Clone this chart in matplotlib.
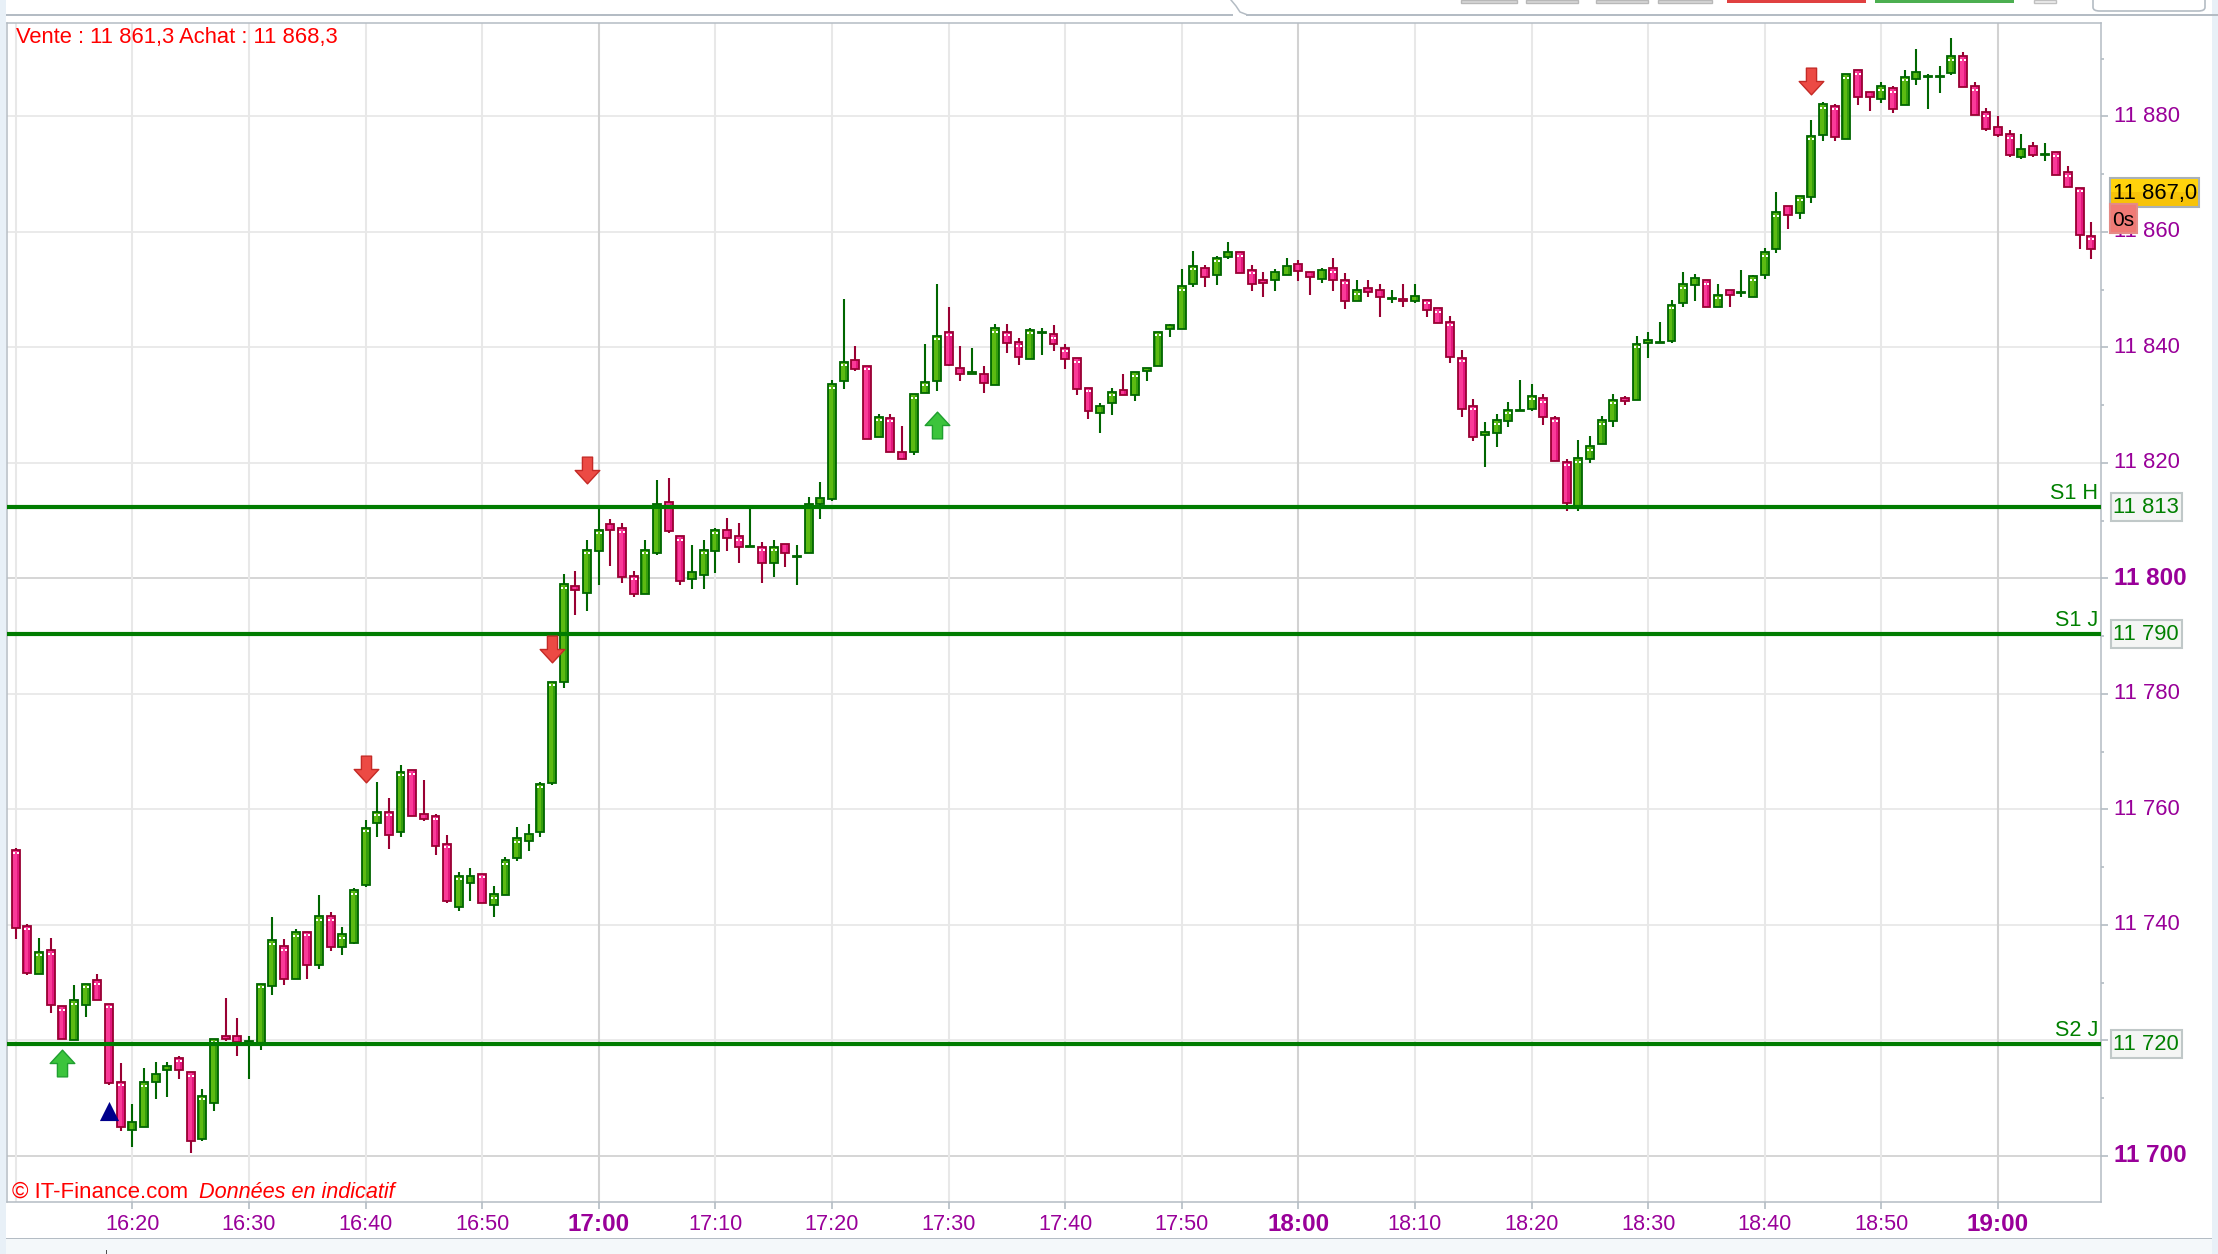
import numpy as np
import matplotlib
matplotlib.use('Agg')
import matplotlib.pyplot as plt
from matplotlib.lines import Line2D
from matplotlib.patches import Rectangle, FancyBboxPatch
from matplotlib.path import Path

plt.rcParams['font.family'] = ['Liberation Sans', 'DejaVu Sans']

W, H = 2218, 1254
base = 11700

# one candle per minute from 16:10, prices are offsets from base
opens = [53.0,39.8,31.4,35.6,25.9,20.0,26.2,30.4,26.3,12.8,
         4.4,5.0,12.7,14.8,17.0,14.5,2.9,9.2,20.7,20.7,
         19.7,19.5,29.4,36.3,30.7,38.8,33.1,41.5,36.2,36.9,
         46.9,57.7,59.6,56.0,66.8,59.2,58.9,54.0,43.1,47.3,
         48.8,43.5,45.2,51.5,54.6,56.0,64.6,82.0,98.7,97.5,
         104.8,109.4,108.7,100.4,97.2,104.4,113.2,107.3,99.9,100.6,
         104.8,108.4,107.3,105.4,105.5,102.7,105.9,103.7,104.4,112.9,
         113.8,134.2,137.8,136.8,124.5,127.8,121.9,121.8,132.1,134.2,
         142.7,136.4,135.3,135.4,133.5,142.7,140.9,138.0,142.5,142.3,
         139.9,138.1,133.0,128.7,130.4,132.6,131.8,135.9,136.7,143.2,
         143.2,150.9,153.7,152.6,155.7,156.5,153.4,151.7,151.6,152.6,
         154.4,153.1,151.9,153.7,151.7,148.1,150.3,149.9,148.4,148.3,
         148.1,148.2,146.8,144.4,138.2,129.9,124.8,125.2,127.3,129.0,
         129.4,131.2,127.8,120.2,112.5,120.7,123.2,127.3,131.3,130.8,
         140.8,140.8,141.1,147.7,150.8,151.6,147.0,149.9,149.4,148.8,
         152.5,157.1,164.5,163.3,166.0,176.8,181.8,176.1,188.0,184.2,
         183.0,184.9,182.0,186.5,186.9,186.9,187.5,190.4,185.2,180.7,
         178.2,176.9,172.9,174.8,173.3,173.8,170.3,167.6,159.3]
closes = [39.4,31.7,35.3,26.2,20.3,26.9,29.8,26.9,12.6,5.0,
          5.8,12.7,14.2,15.5,14.8,2.6,10.4,20.3,20.2,19.7,
          19.8,29.8,37.3,30.6,38.7,33.1,41.5,36.2,38.4,46.0,
          56.8,59.6,55.6,66.5,58.8,58.3,53.6,44.1,48.5,48.5,
          43.8,45.3,51.2,55.0,55.7,64.4,82.1,99.0,97.9,104.9,
          108.4,108.3,100.3,97.2,104.9,112.9,108.2,99.6,101.1,104.9,
          108.4,106.9,105.5,105.6,102.7,105.5,104.4,103.9,112.9,113.9,
          133.6,137.5,136.3,124.2,128.0,121.8,120.7,131.9,134.0,142.0,
          137.0,135.3,135.8,133.9,143.3,140.8,138.4,143.0,142.7,140.5,
          138.0,132.8,129.0,129.9,132.3,131.8,135.7,136.5,142.7,143.8,
          150.6,154.1,152.2,155.5,156.5,152.9,150.9,151.1,153.1,154.1,
          153.3,152.2,153.4,151.6,148.1,149.9,149.5,148.8,148.6,148.0,
          148.9,146.4,144.3,138.4,129.4,124.5,125.4,127.4,129.2,129.2,
          131.6,128.0,120.4,113.1,120.8,122.9,127.4,130.9,130.7,140.6,
          141.3,140.9,147.4,150.9,152.0,147.0,149.1,149.1,149.6,152.3,
          156.5,163.4,163.0,166.2,176.6,182.1,176.5,187.3,183.4,183.4,
          185.2,181.3,186.9,187.7,187.0,187.0,190.4,185.1,180.3,177.8,
          176.8,173.3,174.4,173.3,173.5,169.9,167.8,159.5,157.1]
highs = [53.3,40.2,37.8,37.8,25.9,29.5,29.8,31.5,26.3,16.0,
         9.0,15.2,16.3,16.3,17.3,14.5,11.5,20.3,27.4,23.9,
         20.8,29.8,41.3,37.5,39.2,38.8,45.1,42.3,39.6,46.4,
         58.2,64.8,62.0,67.6,66.8,65.1,59.2,55.5,49.2,49.9,
         48.8,46.8,51.7,56.9,57.5,64.8,82.1,100.8,101.2,106.7,
         112.5,110.2,109.5,101.2,106.7,117.1,117.4,107.3,105.7,106.7,
         108.8,110.5,109.5,112.1,106.3,106.7,105.9,105.7,114.0,116.7,
         134.4,148.3,140.3,136.8,128.5,128.5,126.4,131.9,140.6,151.0,
         146.9,140.3,139.9,136.8,144.1,144.1,141.7,143.4,143.4,143.8,
         140.6,138.1,133.0,130.3,133.0,135.4,135.7,136.5,142.7,144.1,
         153.5,156.6,154.2,155.9,158.3,156.5,154.2,153.1,153.5,155.5,
         155.2,153.1,153.8,155.5,152.8,151.7,151.7,151.0,150.0,151.0,
         151.0,148.2,146.8,145.5,139.6,131.0,127.1,128.5,130.6,134.4,
         133.7,132.0,128.1,120.6,124.0,124.7,128.1,132.0,131.6,142.0,
         142.7,144.4,148.2,153.0,152.7,151.6,150.9,149.9,153.4,152.6,
         157.2,166.9,164.5,166.2,179.4,182.5,182.2,187.3,188.0,184.2,
         186.0,185.2,188.1,191.6,187.4,188.8,193.6,191.1,186.0,181.4,
         180.1,177.7,177.0,175.6,175.3,173.8,171.4,167.6,161.7]
lows = [37.6,31.3,31.4,24.7,20.3,20.0,24.1,26.9,12.3,4.3,
        1.5,5.0,9.9,10.2,13.3,0.5,2.6,7.8,19.8,17.2,
        13.3,18.4,27.8,29.6,30.7,30.6,32.3,35.5,34.8,36.6,
        46.6,55.2,53.1,55.2,58.8,58.0,52.1,43.7,42.4,44.1,
        43.8,41.4,45.2,51.0,52.8,55.2,64.2,81.0,93.6,94.3,
        98.8,102.2,99.2,96.8,97.2,104.1,107.8,98.9,98.2,98.2,
        100.9,104.7,102.7,105.4,99.2,100.2,102.0,98.8,104.4,110.3,
        113.4,132.8,135.9,124.2,124.5,121.8,120.7,121.4,132.1,132.4,
        136.7,134.2,135.3,132.1,133.5,139.0,136.9,138.0,138.7,139.4,
        136.2,131.7,127.6,125.2,128.3,131.8,130.7,134.2,136.7,141.8,
        143.2,150.5,150.5,150.8,155.3,152.9,149.8,148.7,149.8,152.6,
        151.5,149.1,151.1,149.8,146.6,148.1,148.7,145.3,147.7,147.0,
        147.7,145.3,144.3,137.3,127.9,123.8,119.3,122.8,126.2,129.0,
        129.0,126.6,120.4,111.7,111.7,120.0,123.2,126.2,130.0,130.8,
        138.2,140.8,140.8,147.0,148.0,147.0,147.0,147.0,148.8,148.8,
        151.8,156.3,160.5,162.2,165.0,175.7,175.7,176.1,181.9,180.9,
        182.3,180.6,182.0,185.4,181.3,184.0,187.1,185.1,180.3,177.4,
        176.4,172.9,172.6,172.9,172.2,169.9,167.8,157.0,155.3]

# support lines
level_names = ['S1 H', 'S1 J', 'S2 J']
level_values = [11812.4, 11790.4, 11719.4]
level_labels = ['11 813', '11 790', '11 720']

# signals: minute index, price
down_x = [30, 46, 49, 154]
down_y = [11767.0, 11787.7, 11818.7, 11886.2]
up_x = [4, 79]
up_y = [11716.1, 11826.6]
tri_x = [8]
tri_y = [11707.7]

# axis labels
time_pos = [10, 20, 30, 40, 50, 60, 70, 80, 90, 100, 110, 120, 130, 140, 150, 160, 170]
time_labels = ['16:20', '16:30', '16:40', '16:50', '17:00', '17:10', '17:20', '17:30',
               '17:40', '17:50', '18:00', '18:10', '18:20', '18:30', '18:40', '18:50', '19:00']
time_bold = [50, 110, 170]
price_pos = [11700, 11720, 11740, 11760, 11780, 11800, 11820, 11840, 11860, 11880]
price_labels = ['11 700', '', '11 740', '11 760', '11 780', '11 800', '11 820', '11 840', '11 860', '11 880']
price_bold = [11700, 11800]
price_minor = [11710, 11730, 11750, 11770, 11790, 11810, 11830, 11850, 11870, 11890]

purple = '#990099'
line_green = '#007c00'
tick_grey = '#b4bcc4'


def fx(x):
    return x / W


def fy(y):
    return 1 - y / H


def rect(x0, y0, x1, y1, face, edge='none', lw=0, z=5):
    fig.add_artist(Rectangle((fx(x0), fy(y1)), (x1 - x0) / W, (y1 - y0) / H, transform=fig.transFigure,
                             facecolor=face, edgecolor=edge, linewidth=lw, zorder=z))


fig = plt.figure(figsize=(W / 100, H / 100), dpi=100, facecolor='white')
ax = fig.add_axes([fx(7), fy(1202), (2100.6 - 7) / W, (1202 - 22.8) / H])
ax.set_xlim(-0.75, 178.8)
ax.set_ylim(11692, 11896.2)

# grid, the 16:10 line has no tick or label
for p in price_pos:
    ax.axhline(p, color='#d2d2d2' if p in price_bold else '#e8e8e8', lw=1.3, zorder=1)
ax.axvline(0, color='#e8e8e8', lw=1.5, zorder=1)
for t in time_pos:
    ax.axvline(t, color='#d2d2d2' if t in time_bold else '#e8e8e8', lw=1.5, zorder=1)

# candles
opens_a = np.array(opens) + base
closes_a = np.array(closes) + base
highs_a = np.array(highs) + base
lows_a = np.array(lows) + base
x = np.arange(len(opens_a))
up = closes_a >= opens_a
top = np.maximum(opens_a, closes_a)
bot = np.minimum(opens_a, closes_a)

ax.vlines(x[up], lows_a[up], highs_a[up], color='#006600', lw=1.5, zorder=2)
ax.vlines(x[~up], lows_a[~up], highs_a[~up], color='#990033', lw=1.5, zorder=2)
ax.bar(x[up], (top - bot)[up], bottom=bot[up], width=0.68, color='#359e0c', zorder=3, lw=0)
ax.bar(x[~up], (top - bot)[~up], bottom=bot[~up], width=0.68, color='#e3187e', zorder=3, lw=0)
# lighter strip inside the bodies
ax.bar(x[up] - 0.08, (top - bot)[up], bottom=bot[up], width=0.32, color='#5cba12', zorder=3.5, lw=0)
ax.bar(x[~up] - 0.08, (top - bot)[~up], bottom=bot[~up], width=0.32, color='#fa3a98', zorder=3.5, lw=0)
ax.bar(x[up], (top - bot)[up], bottom=bot[up], width=0.68, fill=False, edgecolor='#006600', lw=1.3, zorder=3.6)
ax.bar(x[~up], (top - bot)[~up], bottom=bot[~up], width=0.68, fill=False, edgecolor='#990033', lw=1.3, zorder=3.6)
# little white marks under the top edge of the taller bodies
tall = (top - bot) > 1.5
ax.scatter(np.r_[x[tall] - 0.17, x[tall] + 0.17], np.r_[top[tall] - 0.6, top[tall] - 0.6],
           marker='s', s=2.5, color='white', lw=0, zorder=3.7)

# support lines
for v in level_values:
    ax.axhline(v, color=line_green, lw=3.0, zorder=4)

# signal arrows
down_path = Path([(-0.38, 1), (0.38, 1), (0.38, 0), (0.92, 0), (0, -1), (-0.92, 0), (-0.38, 0), (-0.38, 1)], closed=True)
up_path = Path([(-0.38, -1), (0.38, -1), (0.38, 0), (0.92, 0), (0, 1), (-0.92, 0), (-0.38, 0), (-0.38, -1)], closed=True)
ax.scatter(down_x, down_y, marker=down_path, s=370, facecolor='#ec4a44', edgecolor='#c42a26', lw=1, zorder=5)
ax.scatter(up_x, up_y, marker=up_path, s=370, facecolor='#3cc43c', edgecolor='#1f9f2f', lw=1, zorder=5)
ax.scatter(tri_x, tri_y, marker='^', s=190, color='#00008b', lw=0, zorder=5)

# axes
for s in ax.spines.values():
    s.set_color(tick_grey)
    s.set_linewidth(1.1)
ax.yaxis.tick_right()
ax.set_yticks(price_pos)
ax.set_yticklabels(price_labels)
ax.set_yticks(price_minor, minor=True)
ax.tick_params(axis='y', which='major', length=5, width=1.2, color=tick_grey, pad=5, labelsize=15.8, labelcolor=purple)
ax.tick_params(axis='y', which='minor', length=2.5, width=1.2, color=tick_grey)
for lab, p in zip(ax.get_yticklabels(), price_pos):
    lab.set_verticalalignment('center')
    if p in price_bold:
        lab.set_fontweight('bold')
        lab.set_fontsize(17.5)
ax.set_xticks(time_pos)
ax.set_xticklabels(time_labels)
ax.tick_params(axis='x', length=5, width=1.2, color=tick_grey, pad=11, labelsize=15.6, labelcolor=purple)
for lab, t in zip(ax.get_xticklabels(), time_pos):
    lab.set_verticalalignment('center')
    if t in time_bold:
        lab.set_fontweight('bold')
        lab.set_fontsize(17.5)

# texts inside the chart
fig.text(fx(16), fy(37.5), 'Vente : 11 861,3 Achat : 11 868,3', color='#ff0000', fontsize=15.8, va='center', zorder=6)
fig.text(fx(11.5), fy(1192), '\u00a9 IT-Finance.com', color='#ff0000', fontsize=16, va='center', zorder=6)
fig.text(fx(199), fy(1192), 'Donn\u00e9es en indicatif', color='#ff0000', fontsize=15.6, style='italic', va='center', zorder=6)

# support names and value boxes
for name, v, lab in zip(level_names, level_values, level_labels):
    ypx = 1155.7 - (v - 11700) * 5.775
    fig.text(fx(2098), fy(ypx - 13.5), name, color='#008000', fontsize=15.6, ha='right', va='center', zorder=6)
    rect(2110.5, ypx - 14, 2181.5, ypx + 14.5, '#f4f5f4', '#c0c8c8', 1.5)
    fig.text(fx(2146), fy(ypx + 0.5), lab, color='#008000', fontsize=15.8, ha='center', va='center', zorder=6)

# last price box and countdown
rect(2110, 178, 2199, 207, '#f7c308', '#a9b1b8', 1.5)
rect(2111, 179, 2198, 192, '#ffd30c')
fig.text(fx(2155), fy(193), '11 867,0', color='black', fontsize=15.8, ha='center', va='center', zorder=6)
rect(2110, 204, 2137, 233, '#ef7b76', '#e58a86', 1.5, z=7)
fig.text(fx(2123.5), fy(220), '0s', color='black', fontsize=15, ha='center', va='center', zorder=8)

# window chrome round the chart
rect(0, 0, 6, H, '#e8f0f7', z=2)
rect(2212, 0, W, H, '#e8f0f7', z=2)
rect(6, 1239, 2212, H, '#f4f8fa', z=2)
rect(6, 1237.5, 2212, 1239, '#b4bcc4', z=2)
rect(6, 14, 1233, 15.5, '#b4bcc4', z=2)
rect(1246, 14, 2218, 15.5, '#b4bcc4', z=2)
fig.add_artist(Line2D([fx(1231), fx(1236), fx(1240), fx(1247)], [fy(0), fy(6), fy(12), fy(14.7)],
                      transform=fig.transFigure, color='#b4bcc4', lw=1.1, zorder=2))
rect(105.5, 1250, 107, H, '#505050', z=2)
for x0, x1 in [(1461, 1517), (1526, 1578), (1596, 1648), (1658, 1712)]:
    rect(x0, 0, x1, 3, '#d8d8d8', '#b8b8b8', 1)
rect(1727, 0, 1866, 3, '#e04040')
rect(1875, 0, 2014, 3, '#4caf50')
rect(2034, 0, 2056, 3, '#f0f0f0', '#c0c0c0', 1)
fig.add_artist(FancyBboxPatch((fx(2093), fy(11)), 112 / W, 20 / H, transform=fig.transFigure,
                              boxstyle='round,pad=0,rounding_size=0.003', facecolor='white', edgecolor='#b4bcc4', lw=1.2, zorder=2))

fig.savefig('out.png', dpi=100)
